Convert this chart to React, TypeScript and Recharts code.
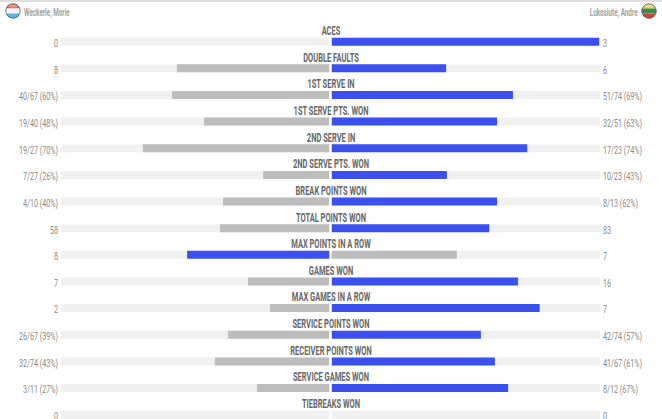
import React from 'react';
import { BarChart, Bar, XAxis, YAxis, Cell, ReferenceLine } from 'recharts';

const titles = [
  'ACES', 'DOUBLE FAULTS', '1ST SERVE IN', '1ST SERVE PTS. WON', '2ND SERVE IN',
  '2ND SERVE PTS. WON', 'BREAK POINTS WON', 'TOTAL POINTS WON', 'MAX POINTS IN A ROW',
  'GAMES WON', 'MAX GAMES IN A ROW', 'SERVICE POINTS WON', 'RECEIVER POINTS WON',
  'SERVICE GAMES WON', 'TIEBREAKS WON',
];
const leftLabels = [
  '0', '8', '40/67 (60%)', '19/40 (48%)', '19/27 (70%)', '7/27 (26%)', '4/10 (40%)', '58',
  '8', '7', '2', '26/67 (39%)', '32/74 (43%)', '3/11 (27%)', '0',
];
const rightLabels = [
  '3', '6', '51/74 (69%)', '32/51 (63%)', '17/23 (74%)', '10/23 (43%)', '8/13 (62%)', '83',
  '7', '16', '7', '42/74 (57%)', '41/67 (61%)', '8/12 (67%)', '0',
];
const leftShare = [0, 57, 58.8, 46.9, 69.6, 25, 39.9, 41, 53.2, 30.6, 22.4, 38, 42.9, 27.3, 0];
const rightShare = [99.7, 42.9, 67.7, 61.8, 73, 43.2, 61.8, 58.9, 46.9, 69.6, 77.6, 55.8, 61, 65.9, 0];
const leftLeads = [8];

const BLUE = '#3b50ee';
const GREY = '#bdbdbd';
const TRACK = '#f0f0f0';
const TEXT = '#888888';
const FONT = 'Roboto, sans-serif';

const chartData = titles.map((title, i) => ({
  title,
  left: -leftShare[i],
  right: rightShare[i],
  track: 100,
}));

// no condensed face is installed, so the text is squeezed horizontally
const LeftTick = ({ x, y, index }: any) => (
  <g>
    <text
      transform={`translate(${x},${y + 5}) scale(0.68,1)`}
      textAnchor="end"
      fontSize={10.5}
      fontFamily={FONT}
      fill={TEXT}
    >
      {leftLabels[index]}
    </text>
    <text
      transform={`translate(331,${y - 7}) scale(0.6,1)`}
      textAnchor="middle"
      fontSize={12.5}
      fontWeight={700}
      fontFamily={FONT}
      fill="#666"
    >
      {titles[index]}
    </text>
  </g>
);

const RightTick = ({ x, y, index }: any) => (
  <text
    transform={`translate(${x},${y + 5}) scale(0.68,1)`}
    textAnchor="start"
    fontSize={10.5}
    fontFamily={FONT}
    fill={TEXT}
  >
    {rightLabels[index]}
  </text>
);

const Flag = ({ id, colors }: { id: string; colors: string[] }) => (
  <svg width={16} height={16} viewBox="0 0 16 16" style={{ display: 'block' }}>
    <defs>
      <clipPath id={id}>
        <circle cx={8} cy={8} r={7.5} />
      </clipPath>
    </defs>
    <g clipPath={`url(#${id})`}>
      <rect x={0} y={0} width={16} height={5.5} fill={colors[0]} />
      <rect x={0} y={5.5} width={16} height={5} fill={colors[1]} />
      <rect x={0} y={10.5} width={16} height={5.5} fill={colors[2]} />
      <ellipse cx={8} cy={2.5} rx={5} ry={2.2} fill="#fff" fillOpacity={0.35} />
    </g>
    <circle cx={8} cy={8} r={7.2} fill="none" stroke="#41606f" strokeOpacity={0.75} />
  </svg>
);

const nameStyle: React.CSSProperties = {
  position: 'absolute',
  top: 6,
  fontFamily: FONT,
  fontSize: 10.5,
  fontWeight: 700,
  color: '#a3a3a3',
  whiteSpace: 'nowrap',
};

const App = () => (
  <div style={{ position: 'absolute', left: 0, top: 0, width: 662, height: 419, overflow: 'hidden', background: '#fff' }}>
    <div style={{ position: 'absolute', left: 0, top: 0, width: 662, height: 2, background: '#dedede' }} />
    <div style={{ position: 'absolute', left: 5, top: 3 }}>
      <Flag id="lux" colors={['#e2594f', '#f4f4f4', '#58b4e4']} />
    </div>
    <div style={{ ...nameStyle, left: 24, transform: 'scaleX(0.6)', transformOrigin: 'left' }}>Weckerle, Morie</div>
    <div style={{ ...nameStyle, right: 24, transform: 'scaleX(0.6)', transformOrigin: 'right' }}>Lukosiute, Andre</div>
    <div style={{ position: 'absolute', left: 641, top: 3 }}>
      <Flag id="ltu" colors={['#e8c83c', '#3f8a4c', '#c9453e']} />
    </div>

    <div style={{ position: 'absolute', left: 0, top: 0 }}>
      <BarChart
        width={662}
        height={430}
        data={chartData}
        layout="vertical"
        stackOffset="sign"
        barCategoryGap={0}
        margin={{ top: 28.7, right: 0, bottom: 1.7, left: 0 }}
      >
        <XAxis xAxisId="main" type="number" domain={[-100, 100]} hide />
        <XAxis xAxisId="track" type="number" domain={[0, 100]} hide />
        <YAxis
          yAxisId="left"
          type="category"
          dataKey="title"
          width={61}
          axisLine={false}
          tickLine={false}
          interval={0}
          tick={(props: any) => <LeftTick {...props} x={58} />}
        />
        <YAxis
          yAxisId="right"
          orientation="right"
          type="category"
          dataKey="title"
          width={62}
          axisLine={false}
          tickLine={false}
          interval={0}
          tick={(props: any) => <RightTick {...props} x={603} />}
        />
        <Bar xAxisId="track" yAxisId="right" dataKey="track" barSize={8} fill={TRACK} isAnimationActive={false} />
        <Bar xAxisId="main" yAxisId="left" dataKey="left" stackId="a" barSize={8} isAnimationActive={false}>
          {chartData.map((_, i) => (
            <Cell key={i} fill={leftLeads.includes(i) ? BLUE : GREY} />
          ))}
        </Bar>
        <Bar xAxisId="main" yAxisId="left" dataKey="right" stackId="a" barSize={8} isAnimationActive={false}>
          {chartData.map((_, i) => (
            <Cell key={i} fill={leftLeads.includes(i) ? GREY : BLUE} />
          ))}
        </Bar>
        <ReferenceLine xAxisId="main" yAxisId="left" x={0} stroke="#fff" strokeWidth={2.5} />
      </BarChart>
    </div>
  </div>
);

export default App;
